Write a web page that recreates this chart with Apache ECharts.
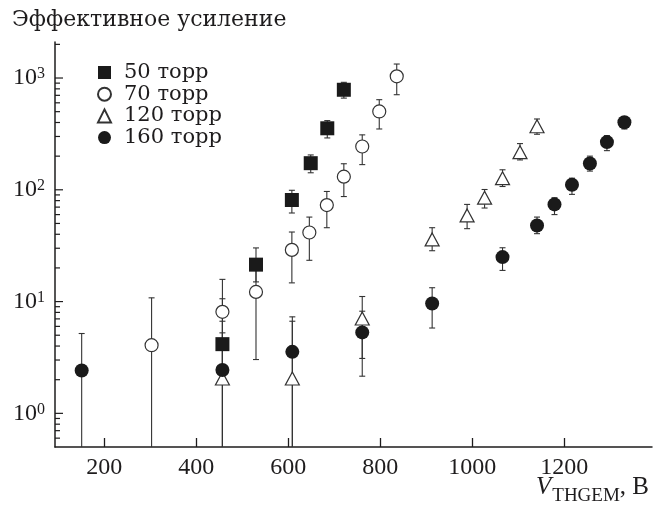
<!DOCTYPE html>
<html>
<head>
<meta charset="utf-8">
<script src="https://cdn.jsdelivr.net/npm/echarts@6/dist/echarts.min.js"></script>
<style>
  html, body { margin: 0; padding: 0; background: #fff; }
  #chart { width: 666px; height: 505px; }
</style>
</head>
<body>
<div id="chart"></div>
<script>
// voltage (V), effective gain, lower / upper error bound; 0 = bar runs below the axis
var v50 = [457, 530, 608, 649, 685, 721];
var g50 = [4.16, 21.4, 81, 173, 355, 785];
var lo50 = [2.6, 15, 62, 142, 291, 661];
var hi50 = [6.67, 30.2, 99, 205, 416, 915];

var v70 = [303, 457, 530, 608, 646, 684, 721, 761, 798, 836];
var g70 = [4.07, 8.1, 12.2, 29, 41.5, 73, 131, 244, 502, 1036];
var lo70 = [0, 0, 3.03, 14.7, 23.4, 45.8, 87, 168, 350, 709];
var hi70 = [10.8, 15.8, 21, 41.9, 57, 96.6, 171, 310, 640, 1334];

var v120 = [457, 609, 761, 913, 989, 1027, 1066, 1104, 1141];
var g120 = [2.05, 2.05, 7.05, 36, 59, 85, 127, 217, 370];
var lo120 = [0, 0, 3.1, 28.5, 44.9, 68.7, 107, 185, 314];
var hi120 = [10.6, 7.3, 11.1, 45.8, 74, 100.6, 151, 259, 430];

var v160 = [151, 457, 609, 761, 913, 1066, 1141, 1179, 1217, 1256, 1293, 1331];
var g160 = [2.42, 2.44, 3.55, 5.3, 9.6, 25, 48, 74, 111, 172, 267, 402];
var lo160 = [0, 0, 0, 2.15, 5.8, 19, 40.5, 60, 91, 147, 224, 350];
var hi160 = [5.18, 5.25, 6.67, 8.2, 13.3, 30.3, 57, 85, 127, 200, 305, 450];

var names = ['50 торр', '70 торр', '120 торр', '160 торр'];
var xTicks = [200, 400, 600, 800, 1000, 1200];
var yMajor = [1, 10, 100, 1000];
var yMinor = [0.6, 0.7, 0.8, 0.9, 2, 3, 4, 5, 6, 7, 8, 9, 20, 30, 40, 50, 60, 70, 80, 90,
  200, 300, 400, 500, 600, 700, 800, 900, 2000];

var X_MIN = 93, X_MAX = 1391, Y_MIN = 0.5, Y_MAX = 2100;
var FONT = 'Liberation Serif';
var WIDE = 'DejaVu Serif';
var INK = '#1e1c1d';

function zip(a, b, c) {
  return a.map(function (v, i) { return c ? [v, b[i], c[i]] : [v, b[i]]; });
}

function renderErrorBar(params, api) {
  var x = api.value(0), lo = api.value(1), hi = api.value(2);
  var clipped = lo < Y_MIN;
  var top = api.coord([x, hi]);
  var bot = api.coord([x, clipped ? Y_MIN : lo]);
  var style = { stroke: '#333', lineWidth: 1.1, fill: null };
  var w = 3;
  var kids = [
    { type: 'line', shape: { x1: top[0], y1: top[1], x2: bot[0], y2: bot[1] }, style: style },
    { type: 'line', shape: { x1: top[0] - w, y1: top[1], x2: top[0] + w, y2: top[1] }, style: style }
  ];
  if (!clipped) {
    kids.push({ type: 'line', shape: { x1: bot[0] - w, y1: bot[1], x2: bot[0] + w, y2: bot[1] }, style: style });
  }
  return { type: 'group', children: kids };
}

function errSeries(id, v, lo, hi) {
  return {
    name: id, type: 'custom', z: 1, silent: true,
    renderItem: renderErrorBar,
    encode: { x: 0, y: [1, 2] },
    data: zip(v, lo, hi)
  };
}

var chart = echarts.init(document.getElementById('chart'));
chart.setOption({
  animation: false,
  textStyle: { fontFamily: FONT, color: INK },
  title: {
    text: 'Эффективное усиление',
    left: 12, top: 9, padding: 0,
    textStyle: { fontFamily: WIDE, fontSize: 22, fontWeight: 'normal', color: INK }
  },
  legend: {
    data: names,
    orient: 'vertical',
    left: 92, top: 57, padding: 5,
    itemWidth: 13, itemHeight: 13, itemGap: 0.7,
    textStyle: { fontFamily: WIDE, fontSize: 21, color: INK, lineHeight: 21, padding: [0, 0, 0, 8] }
  },
  grid: { left: 55, right: 14, top: 42, bottom: 58, containLabel: false, outerBoundsMode: 'none' },
  xAxis: {
    type: 'value', min: X_MIN, max: X_MAX,
    axisLine: { lineStyle: { color: INK, width: 1.5 } },
    axisTick: { inside: true, length: 9, customValues: xTicks, lineStyle: { color: INK, width: 1.3 } },
    axisLabel: {
      customValues: xTicks, fontFamily: FONT, fontSize: 24, color: INK, margin: 9,
      formatter: function (v) { return String(v); }
    },
    splitLine: { show: false }
  },
  yAxis: {
    type: 'log', min: Y_MIN, max: Y_MAX,
    axisLine: { show: true, lineStyle: { color: INK, width: 1.5 } },
    axisTick: { show: false },
    axisLabel: {
      customValues: yMajor, margin: 10,
      formatter: function (v) { return '{b|10}{s|' + Math.round(Math.log10(v)) + '}'; },
      rich: {
        b: { fontFamily: FONT, fontSize: 24, color: INK },
        s: { fontFamily: FONT, fontSize: 16, color: INK, verticalAlign: 'top' }
      }
    },
    splitLine: { show: false }
  },
  series: [
    errSeries('e50', v50, lo50, hi50),
    errSeries('e70', v70, lo70, hi70),
    errSeries('e120', v120, lo120, hi120),
    errSeries('e160', v160, lo160, hi160),
    { name: names[0], type: 'scatter', z: 3, symbol: 'rect', symbolSize: 14,
      itemStyle: { color: '#1a1a1a', opacity: 1 }, data: zip(v50, g50) },
    { name: names[1], type: 'scatter', z: 3, symbol: 'circle', symbolSize: 13,
      itemStyle: { color: '#fff', borderColor: '#333', borderWidth: 1.2, opacity: 1 }, data: zip(v70, g70) },
    { name: names[2], type: 'scatter', z: 3, symbol: 'triangle', symbolSize: [14, 13],
      itemStyle: { color: '#fff', borderColor: '#333', borderWidth: 1.2, opacity: 1 }, data: zip(v120, g120) },
    { name: names[3], type: 'scatter', z: 3, symbol: 'circle', symbolSize: 14,
      itemStyle: { color: '#1a1a1a', opacity: 1 }, data: zip(v160, g160) }
  ]
});

// log-axis ticks (major 10^n and minor 2..9 x 10^n), placed through the axis scale
var axisX = chart.convertToPixel({ xAxisIndex: 0 }, X_MIN);
var extras = [];
yMajor.concat(yMinor).forEach(function (v) {
  var y = chart.convertToPixel({ yAxisIndex: 0 }, v);
  var len = yMajor.indexOf(v) >= 0 ? 8 : 5;
  extras.push({
    type: 'line', silent: true, z: 5,
    shape: { x1: axisX, y1: y, x2: axisX + len, y2: y },
    style: { stroke: INK, lineWidth: 1.2 }
  });
});

// x axis title: V with subscript THGEM, volts
extras.push({
  type: 'text', right: 17, top: 475, z: 10, silent: true,
  style: {
    text: '{i|V}{s|THGEM}{n|, В}',
    rich: {
      i: { fontFamily: FONT, fontSize: 25, fontStyle: 'italic', fill: INK, verticalAlign: 'bottom', padding: [0, 1, 6, 0] },
      s: { fontFamily: FONT, fontSize: 19, fill: INK, verticalAlign: 'bottom' },
      n: { fontFamily: FONT, fontSize: 25, fill: INK, verticalAlign: 'bottom', padding: [0, 0, 6, 0] }
    }
  }
});
chart.setOption({ graphic: extras });
</script>
</body>
</html>
